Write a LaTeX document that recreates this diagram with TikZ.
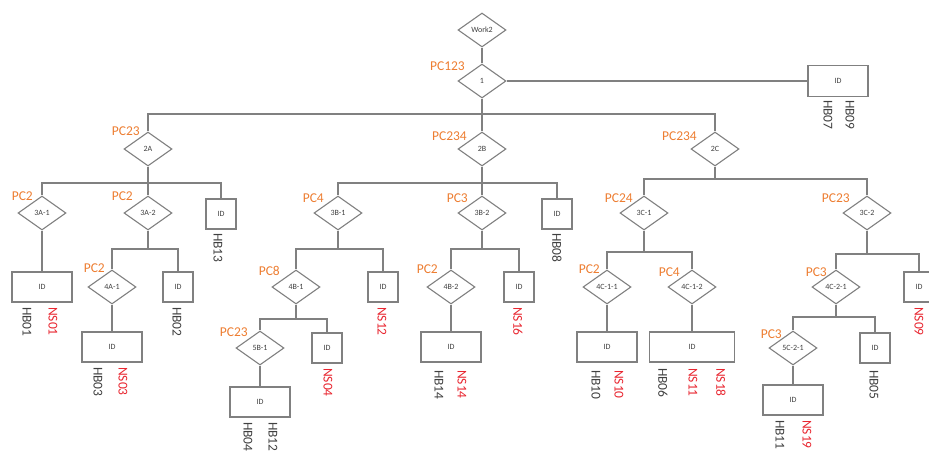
\documentclass[tikz,border=0pt]{standalone}
\usepackage{fontspec}
\setmainfont{Carlito}
\usetikzlibrary{shapes.geometric}
\definecolor{pcorange}{RGB}{237,125,49}
\definecolor{nsred}{RGB}{232,38,48}
\definecolor{linegrey}{RGB}{128,128,128}
\definecolor{textgrey}{RGB}{64,64,64}

\begin{document}
\begin{tikzpicture}[x=1pt, y=-1pt,
    every node/.style={text=textgrey},
    dia/.style={draw=linegrey, line width=1.1pt, diamond, aspect=1.4, inner sep=0pt,
                minimum width=48pt, minimum height=34pt, font=\fontsize{8}{9}\selectfont},
    idbox/.style={draw=linegrey, line width=1.1pt, minimum width=#1, minimum height=30pt,
                  inner sep=0pt, font=\fontsize{8}{9}\selectfont},
    idbox/.default=30pt,
    pc/.style={anchor=base east, inner sep=0pt, text=pcorange,
               font=\fontsize{13.5}{15}\selectfont},
    tag/.style={rotate=-90, anchor=west, inner sep=0pt,
                font=\fontsize{13.5}{15}\selectfont},
    link/.style={draw=linegrey, line width=1.1pt}]

  \useasboundingbox (0,0) rectangle (929,451);

  % top
  \node[dia] (work) at (482,30) {Work2};
  \node[dia] (n1) at (482,81) {1};
  \node[idbox=60pt, minimum height=31pt] (idtop) at (838,81) {ID};

  % level 2
  \node[dia] (d2A) at (148,149) {2A};
  \node[dia] (d2B) at (482,149) {2B};
  \node[dia] (d2C) at (715,149) {2C};

  % level 3
  \node[dia] (d3A1) at (42,213) {3A-1};
  \node[dia] (d3A2) at (148,213) {3A-2};
  \node[idbox] (id13) at (221,214) {ID};
  \node[dia] (d3B1) at (338,213) {3B-1};
  \node[dia] (d3B2) at (482,213) {3B-2};
  \node[idbox] (id08) at (557,214) {ID};
  \node[dia] (d3C1) at (644,213) {3C-1};
  \node[dia] (d3C2) at (867,213) {3C-2};

  % level 4
  \node[idbox=60pt] (id01) at (42,287) {ID};
  \node[dia] (d4A1) at (112,287) {4A-1};
  \node[idbox] (id02) at (178,287) {ID};
  \node[dia] (d4B1) at (296,287) {4B-1};
  \node[idbox] (id12) at (383,287) {ID};
  \node[dia] (d4B2) at (451,287) {4B-2};
  \node[idbox] (id16) at (519,287) {ID};
  \node[dia] (d4C11) at (607,287) {4C-1-1};
  \node[dia] (d4C12) at (692,287) {4C-1-2};
  \node[dia] (d4C21) at (836,287) {4C-2-1};
  \node[idbox] (id09) at (919,287) {ID};

  % level 5
  \node[idbox=60pt] (id03) at (112,347) {ID};
  \node[dia] (d5B1) at (260,348) {5B-1};
  \node[idbox] (id04) at (327,348) {ID};
  \node[idbox=60pt] (id14) at (451,347) {ID};
  \node[idbox=60pt] (id10) at (607,347) {ID};
  \node[idbox=85pt] (id06) at (692,347) {ID};
  \node[dia] (d5C21) at (793,348) {5C-2-1};
  \node[idbox] (id05) at (875,348) {ID};

  % level 6
  \node[idbox=60pt] (id0412) at (260,402) {ID};
  \node[idbox=60pt] (id11) at (793,400) {ID};

  % bus junctions
  \coordinate (j1) at (482,114);
  \coordinate (j2A) at (148,183);
  \coordinate (j2B) at (482,183);
  \coordinate (j2C) at (715,179);
  \coordinate (j3A2) at (148,249);
  \coordinate (j3B1) at (338,249);
  \coordinate (j3B2) at (482,249);
  \coordinate (j3C1) at (644,252);
  \coordinate (j3C2) at (867,254);
  \coordinate (j4B1) at (296,319);
  \coordinate (j4C21) at (836,317);

  \foreach \p/\j/\c in {n1/j1/d2A, n1/j1/d2B, n1/j1/d2C,
                        d2A/j2A/d3A1, d2A/j2A/d3A2, d2A/j2A/id13,
                        d2B/j2B/d3B1, d2B/j2B/d3B2, d2B/j2B/id08,
                        d2C/j2C/d3C1, d2C/j2C/d3C2,
                        d3A2/j3A2/d4A1, d3A2/j3A2/id02,
                        d3B1/j3B1/d4B1, d3B1/j3B1/id12,
                        d3B2/j3B2/d4B2, d3B2/j3B2/id16,
                        d3C1/j3C1/d4C11, d3C1/j3C1/d4C12,
                        d3C2/j3C2/d4C21, d3C2/j3C2/id09,
                        d4B1/j4B1/d5B1, d4B1/j4B1/id04,
                        d4C21/j4C21/d5C21, d4C21/j4C21/id05}
    \draw[link] (\p.south) -- (\j) -| (\c.north);
  \foreach \a/\b in {work/n1, d3A1/id01, d4A1/id03, d5B1/id0412, d4B2/id14,
                     d4C11/id10, d4C12/id06, d5C21/id11}
    \draw[link] (\a.south) -- (\b.north);
  \draw[link] (n1.east) -- (idtop.west);

  % PC labels
  \foreach \x/\y/\t [count=\i] in {465/70/PC123, 140/135/PC23, 467/140/PC234,
      697/140/PC234, 33/200/PC2, 133/200/PC2, 324/202/PC4, 468/202/PC3,
      633/202/PC24, 850/202/PC23, 105/272/PC2, 280/275/PC8, 248/336/PC23,
      438/273/PC2, 600/273/PC2, 680/276/PC4, 827/276/PC3, 782/338/PC3}
    \node[pc] (pc\i) at (\x,\y) {\t};

  % HB / NS tags
  \foreach \x/\y/\t/\c in {828/100/HB07/textgrey, 850/100/HB09/textgrey,
      218/233/HB13/textgrey, 557/233/HB08/textgrey,
      27/307/HB01/textgrey, 53/307/NS01/nsred, 177/307/HB02/textgrey,
      382/307/NS12/nsred, 518/307/NS16/nsred, 919/307/NS09/nsred,
      98/367/HB03/textgrey, 123/367/NS03/nsred, 328/368/NS04/nsred,
      439/370/HB14/textgrey, 462/370/NS14/nsred,
      596/370/HB10/textgrey, 619/370/NS10/nsred,
      663/368/HB06/textgrey, 693/368/NS11/nsred, 721/368/NS18/nsred,
      874/370/HB05/textgrey, 248/422/HB04/textgrey, 273/422/HB12/textgrey,
      780/420/HB11/textgrey, 807/420/NS19/nsred}
    \node[tag, text=\c] (\t) at (\x,\y) {\t};
\end{tikzpicture}
\end{document}
